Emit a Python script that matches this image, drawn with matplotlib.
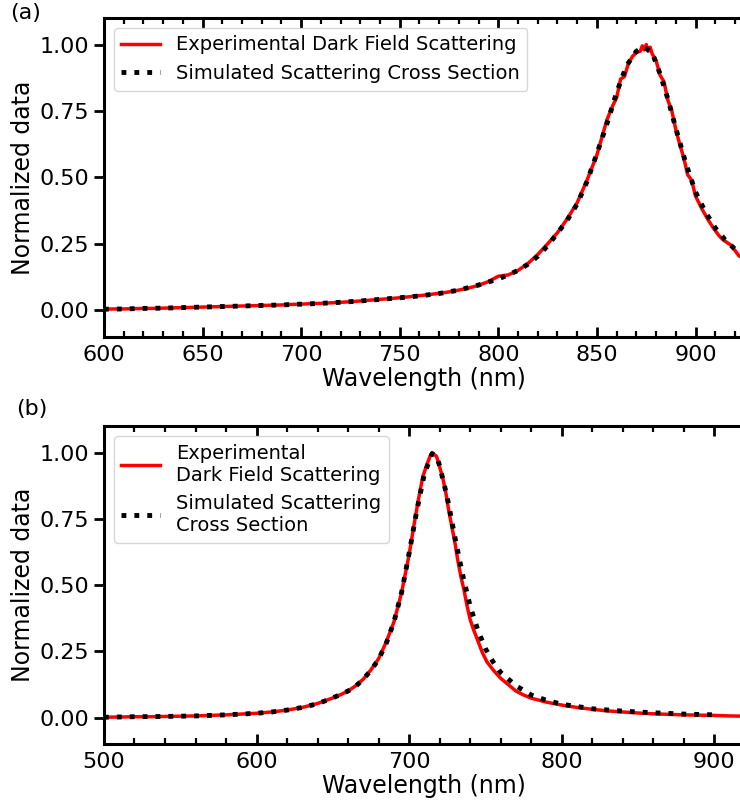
import matplotlib
matplotlib.use("Agg")
import matplotlib.pyplot as plt
from matplotlib.ticker import MultipleLocator

# (a) simulated scattering cross section
sim_a_wl = [600, 610, 620, 630, 640, 650, 660, 670, 680, 690, 700, 710, 720, 730, 740,
            750, 760, 770, 780, 790, 800, 805, 810, 815, 820, 825, 830, 835, 840, 845,
            850, 855, 860, 865, 870, 874, 878, 882, 886, 890, 895, 900, 905, 910, 915,
            920, 925, 930]
sim_a_val = [0.004, 0.005, 0.007, 0.008, 0.010, 0.012, 0.014, 0.016, 0.018, 0.020, 0.023,
             0.026, 0.030, 0.035, 0.041, 0.047, 0.054, 0.063, 0.076, 0.095, 0.118, 0.133,
             0.150, 0.173, 0.203, 0.243, 0.29, 0.34, 0.40, 0.485, 0.59, 0.70, 0.82, 0.92,
             0.975, 0.99, 0.97, 0.89, 0.795, 0.685, 0.555, 0.445, 0.37, 0.31, 0.265,
             0.23, 0.20, 0.18]

# (a) experimental dark field scattering
exp_a_wl = [600, 605, 610, 615, 620, 625, 630, 635, 640, 645, 650, 655, 660, 665, 670,
            675, 680, 685, 690, 695, 700, 705, 710, 715, 720, 725, 730, 735, 740, 745,
            750, 755, 760, 765, 770, 775, 780, 785, 790, 795, 800, 805, 810, 815, 820,
            825, 830, 835, 840, 845, 850, 855, 858, 860, 862, 864, 866, 868, 870, 872,
            873, 874, 875, 876, 877, 878, 880, 882, 884, 886, 888, 890, 892, 894, 896,
            898, 900, 903, 906, 909, 912, 914, 916, 918, 920, 922, 925]
exp_a_val = [0.004, 0.005, 0.005, 0.006, 0.007, 0.007, 0.008, 0.009, 0.010, 0.011, 0.012,
             0.013, 0.014, 0.015, 0.016, 0.017, 0.018, 0.019, 0.020, 0.022, 0.023, 0.025,
             0.026, 0.028, 0.030, 0.032, 0.035, 0.038, 0.041, 0.044, 0.047, 0.051, 0.055,
             0.059, 0.064, 0.069, 0.076, 0.084, 0.094, 0.108, 0.128, 0.133, 0.150, 0.176,
             0.210, 0.250, 0.292, 0.345, 0.405, 0.49, 0.585, 0.715, 0.77, 0.80, 0.87,
             0.88, 0.93, 0.955, 0.97, 0.975, 0.995, 0.98, 1.0, 0.975, 0.99, 0.965, 0.94,
             0.885, 0.86, 0.79, 0.75, 0.68, 0.625, 0.575, 0.51, 0.49, 0.43, 0.385, 0.345,
             0.31, 0.28, 0.265, 0.255, 0.245, 0.225, 0.205, 0.19]

# (b) simulated scattering cross section
sim_b_wl = [500, 520, 540, 560, 580, 600, 610, 620, 630, 640, 650, 660, 665, 670, 675,
            680, 685, 690, 695, 700, 705, 710, 715, 718, 720, 725, 730, 735, 740, 745,
            750, 755, 760, 770, 780, 790, 800, 820, 840, 860, 880, 900]
sim_b_val = [0.001, 0.003, 0.004, 0.006, 0.010, 0.016, 0.021, 0.028, 0.038, 0.052, 0.074,
             0.100, 0.118, 0.145, 0.178, 0.22, 0.28, 0.36, 0.47, 0.62, 0.78, 0.92, 0.995,
             0.985, 0.95, 0.83, 0.68, 0.54, 0.42, 0.33, 0.26, 0.21, 0.17, 0.12, 0.085,
             0.065, 0.05, 0.033, 0.024, 0.018, 0.013, 0.010]

# (b) experimental dark field scattering
exp_b_wl = [500, 510, 520, 530, 540, 550, 560, 570, 580, 590, 600, 610, 620, 630, 640,
            650, 655, 660, 665, 670, 675, 680, 685, 690, 695, 700, 703, 706, 709, 712,
            714, 715, 716, 718, 720, 722, 724, 726, 728, 730, 732, 734, 736, 738, 740,
            742, 745, 748, 751, 755, 760, 765, 770, 775, 780, 790, 800, 810, 820, 830,
            840, 850, 860, 870, 880, 890, 900, 910, 920]
exp_b_val = [0.001, 0.002, 0.003, 0.003, 0.004, 0.005, 0.006, 0.008, 0.010, 0.013, 0.016,
             0.021, 0.028, 0.038, 0.053, 0.074, 0.086, 0.100, 0.120, 0.145, 0.180, 0.222,
             0.285, 0.360, 0.470, 0.615, 0.72, 0.82, 0.91, 0.96, 0.99, 1.0, 0.995, 0.985,
             0.945, 0.905, 0.85, 0.78, 0.72, 0.66, 0.59, 0.53, 0.48, 0.42, 0.37, 0.335,
             0.29, 0.245, 0.21, 0.18, 0.148, 0.124, 0.10, 0.085, 0.073, 0.058, 0.047,
             0.038, 0.031, 0.025, 0.021, 0.017, 0.014, 0.012, 0.010, 0.009, 0.008, 0.006,
             0.005]

yticks = [0.0, 0.25, 0.5, 0.75, 1.0]

fig = plt.figure(figsize=(7.4, 8.02), dpi=100)
# right spine sits just past the figure edge, like the cropped original
ax_a = fig.add_axes([0.1405, 0.580, 0.866, 0.3976])
ax_b = fig.add_axes([0.1405, 0.0723, 0.866, 0.3965])


def style_axis(ax, xlim, major, minor):
    ax.set_xlim(*xlim)
    ax.set_ylim(-0.1, 1.1)
    ax.set_yticks(yticks)
    ax.xaxis.set_major_locator(MultipleLocator(major))
    ax.xaxis.set_minor_locator(MultipleLocator(minor))
    ax.tick_params(axis='x', which='both', direction='in', top=True, bottom=True)
    ax.tick_params(axis='x', which='major', length=7, width=2, labelsize=16, pad=6)
    ax.tick_params(axis='x', which='minor', length=4, width=1.6)
    ax.tick_params(axis='y', which='major', direction='out', length=7, width=2, labelsize=16)
    for sp in ax.spines.values():
        sp.set_linewidth(2.2)
    ax.set_xlabel('Wavelength (nm)', fontsize=17, labelpad=1)
    ax.set_ylabel('Normalized data', fontsize=17, labelpad=3)


ax_a.plot(exp_a_wl, exp_a_val, color='red', lw=2.5, label='Experimental Dark Field Scattering')
ax_a.plot(sim_a_wl, sim_a_val, color='black', lw=3.5, ls=':', label='Simulated Scattering Cross Section')
style_axis(ax_a, (600, 925), 50, 10)
ax_a.legend(loc='upper left', fontsize=14, handlelength=2.0, borderaxespad=0.5)

ax_b.plot(exp_b_wl, exp_b_val, color='red', lw=2.5, label='Experimental\nDark Field Scattering')
ax_b.plot(sim_b_wl, sim_b_val, color='black', lw=3.5, ls=':', label='Simulated Scattering\nCross Section')
style_axis(ax_b, (500, 920), 100, 20)
ax_b.legend(loc='upper left', fontsize=14, handlelength=2.0, borderaxespad=0.5)

fig.text(0.014, 0.996, '(a)', fontsize=16, va='top', ha='left')
fig.text(0.022, 0.502, '(b)', fontsize=16, va='top', ha='left')

fig.savefig('out.png', dpi=100)
